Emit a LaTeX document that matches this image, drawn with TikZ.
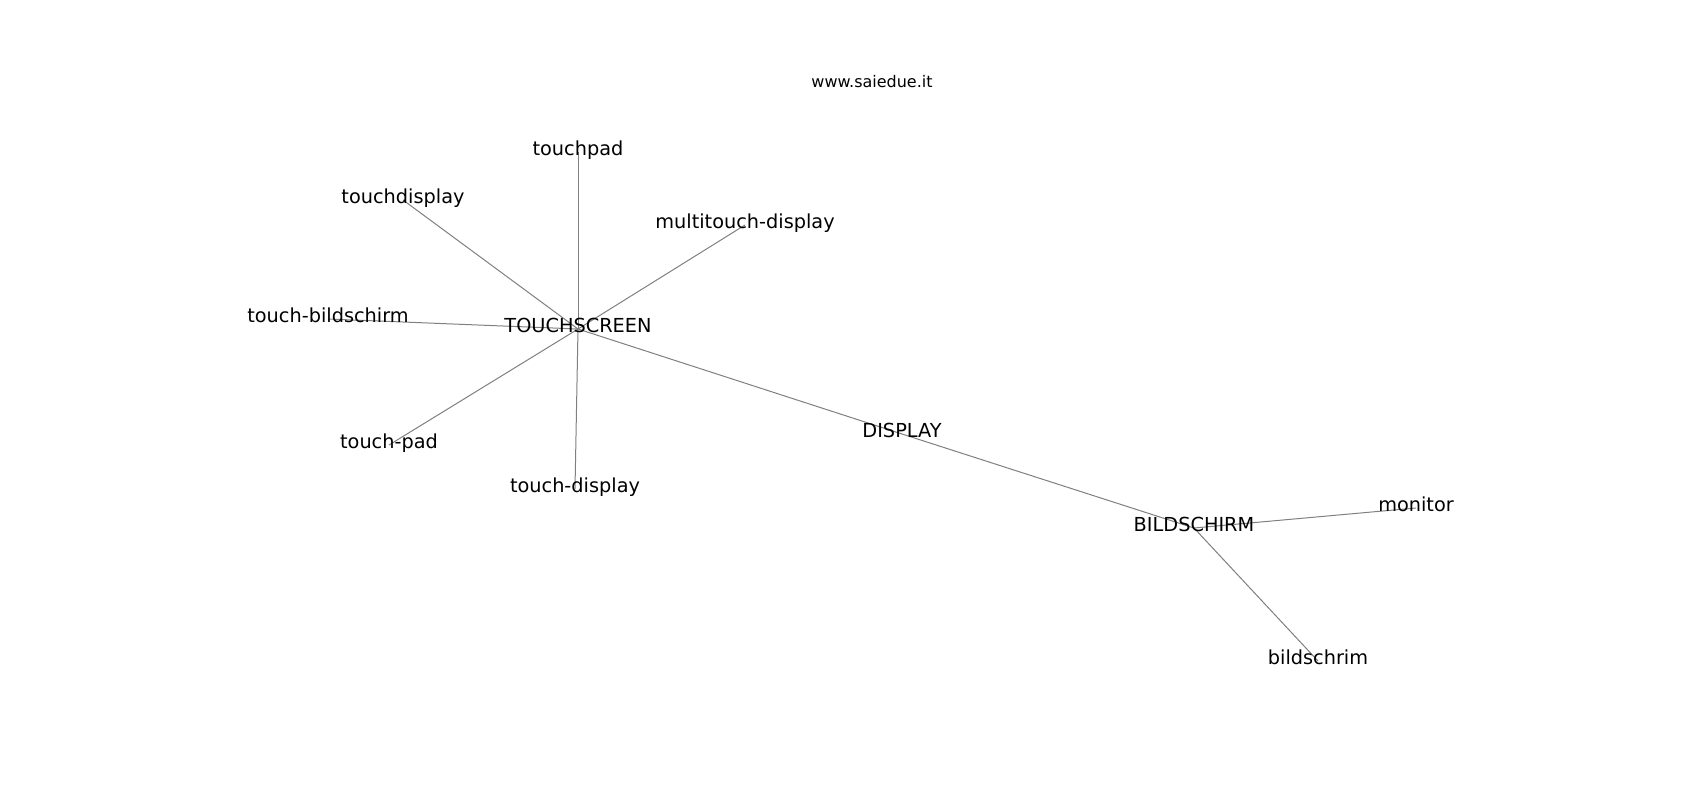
\documentclass[tikz,border=0pt]{standalone}
\usepackage{fontspec}
\setmainfont{DejaVu Sans}
\usetikzlibrary{backgrounds}
\tikzset{
  lbl/.style={inner sep=0pt, anchor=center, text height=0.76em, text depth=0.24em,
              font=\fontsize{13.9pt}{16pt}\selectfont, text=black},
  wm/.style={inner sep=0pt, anchor=center, text height=0.76em, text depth=0.24em,
              font=\fontsize{11.5pt}{14pt}\selectfont, text=black},
  edge/.style={draw=black!50, line width=0.72pt}
}
\begin{document}
\begin{tikzpicture}[x=0.72pt, y=-0.72pt]
\useasboundingbox (0,0) rectangle (1700,800);
\node[wm] (www) at (872,84) {www.saiedue.it};
\node[lbl] (ts) at (578,329) {TOUCHSCREEN};
\node[lbl] (tp) at (578,152) {touchpad};
\node[lbl] (td) at (403,200) {touchdisplay};
\node[lbl] (mtd) at (745,225) {multitouch-display};
\node[lbl] (tb) at (328,319) {touch-bildschirm};
\node[lbl] (tpd) at (389,445) {touch-pad};
\node[lbl] (tdp) at (575,489) {touch-display};
\node[lbl] (disp) at (902,434) {DISPLAY};
\node[lbl] (bs) at (1194,528) {BILDSCHIRM};
\node[lbl] (mon) at (1416,508) {monitor};
\node[lbl] (bsr) at (1318,661) {bildschrim};
\begin{scope}[on background layer]
\fill[white] (0,0) rectangle (1700,800);
\draw[edge] (ts.center) -- (tp.center);
\draw[edge] (ts.center) -- (td.center);
\draw[edge] (ts.center) -- (mtd.center);
\draw[edge] (ts.center) -- (tb.center);
\draw[edge] (ts.center) -- (tpd.center);
\draw[edge] (ts.center) -- (tdp.center);
\draw[edge] (ts.center) -- (disp.center);
\draw[edge] (disp.center) -- (bs.center);
\draw[edge] (bs.center) -- (mon.center);
\draw[edge] (bs.center) -- (bsr.center);
\end{scope}
\end{tikzpicture}
\end{document}
